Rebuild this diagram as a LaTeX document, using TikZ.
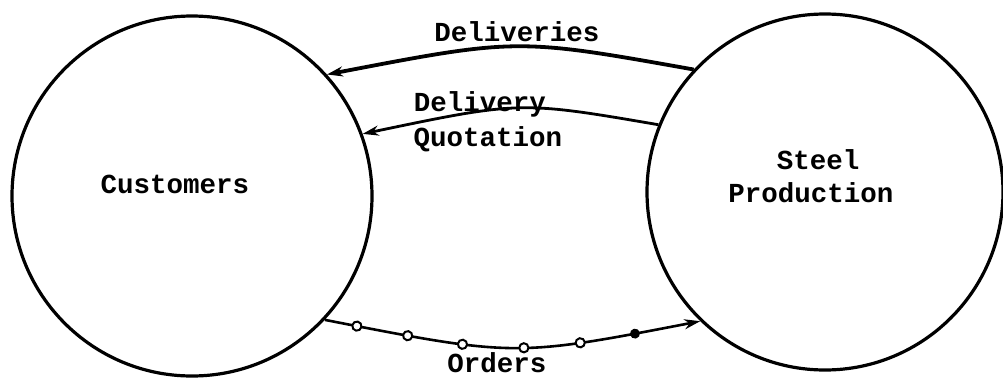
\documentclass[tikz,border=0pt]{standalone}
\usepackage{fontspec}
\setmonofont{Liberation Mono}
\usetikzlibrary{arrows.meta,decorations.markings}
\tikzset{
  bubble/.style={circle,draw=black,line width=3.2pt,inner sep=0pt,minimum size=#1},
  lbl/.style={font=\ttfamily\bfseries\fontsize{27.5}{30}\selectfont,anchor=base,inner sep=0pt},
  flow/.style={-{Stealth[length=16pt,width=10pt]}},
  ring/.style={draw=black,line width=2pt,fill=white},
}
\begin{document}
\begin{tikzpicture}[x=1pt,y=-1pt]
\useasboundingbox (0,0) rectangle (1003,378);
\node[bubble=360pt] (cu) at (192,196) {};
\node[bubble=356pt] (sp) at (825,192) {};
\node[lbl] (tcu) at (175,193) {Customers};
\node[lbl] (ts1) at (818,169) {Steel};
\node[lbl] (ts2) at (811,202) {Production};
% Deliveries
\draw[flow,line width=3.8pt] (sp.137.3) .. controls (517,38) .. (cu.42.2);
\node[lbl] (tdel) at (517,41) {Deliveries};
% Delivery Quotation
\draw[flow,line width=2.8pt] (sp.158.3) .. controls (520,101) .. (cu.20.6);
\node[lbl] (tq1) at (480,111) {Delivery};
\node[lbl] (tq2) at (488,146) {Quotation};
% Orders
\draw[flow,line width=2.6pt,
  postaction={decorate,decoration={markings,
    mark=at position 0.086 with {\draw[ring] (0,0) circle (4.6pt);},
    mark=at position 0.222 with {\draw[ring] (0,0) circle (4.6pt);},
    mark=at position 0.368 with {\draw[ring] (0,0) circle (4.6pt);},
    mark=at position 0.530 with {\draw[ring] (0,0) circle (4.6pt);},
    mark=at position 0.679 with {\draw[ring] (0,0) circle (4.6pt);},
    mark=at position 0.825 with {\fill[black] (0,0) circle (5pt);}}}]
  (cu.-43.6) .. controls (515,357) .. (sp.226.8);
\node[lbl] (tord) at (497,372) {Orders};
\end{tikzpicture}
\end{document}
